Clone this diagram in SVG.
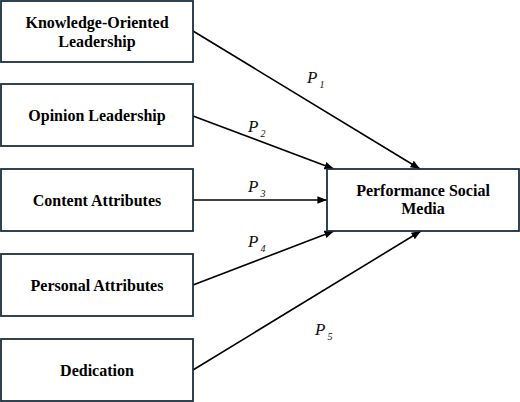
<svg xmlns="http://www.w3.org/2000/svg" width="520" height="402" viewBox="0 0 520 402">
<style>
.box{fill:#fff;stroke:#1c2f3e;stroke-width:1.8}
.t{font-weight:bold;font-size:16px;fill:#000;text-anchor:middle}
.p{font-style:italic;font-size:17px;fill:#111}
.s{font-size:10px}
.c{stroke:#000;stroke-width:1.6;fill:none;marker-end:url(#ah)}
</style>
<defs>
<marker id="ah" viewBox="0 0 10 8" refX="10" refY="4" markerWidth="6" markerHeight="5" markerUnits="strokeWidth" orient="auto">
<path d="M0,0 L10,4 L0,8 Z" fill="#000"/>
</marker>
</defs>
<rect width="520" height="402" fill="#fff"/>
<g id="connectors">
<line class="c" x1="193" y1="31" x2="420" y2="169"/>
<line class="c" x1="193" y1="116" x2="334" y2="169"/>
<line class="c" x1="193" y1="200" x2="327" y2="200"/>
<line class="c" x1="193" y1="285" x2="334" y2="231"/>
<line class="c" x1="193" y1="370" x2="421" y2="231"/>
</g>
<g id="labels" font-family="Liberation Serif, Times New Roman, serif">
<text class="p" x="307" y="83">P<tspan class="s" dx="2" dy="5">1</tspan></text>
<text class="p" x="248" y="132">P<tspan class="s" dx="2" dy="5">2</tspan></text>
<text class="p" x="248" y="192">P<tspan class="s" dx="2" dy="5">3</tspan></text>
<text class="p" x="248" y="247">P<tspan class="s" dx="2" dy="5">4</tspan></text>
<text class="p" x="315" y="335">P<tspan class="s" dx="2" dy="5">5</tspan></text>
</g>
<g font-family="Liberation Serif, Times New Roman, serif">
<g id="n1"><rect class="box" x="1" y="1" width="192" height="61"/><text class="t" x="97" y="28">Knowledge-Oriented</text><text class="t" x="97" y="47">Leadership</text></g>
<g id="n2"><rect class="box" x="1" y="84" width="192" height="62"/><text class="t" x="97" y="121">Opinion Leadership</text></g>
<g id="n3"><rect class="box" x="1" y="169" width="192" height="62"/><text class="t" x="97" y="206">Content Attributes</text></g>
<g id="n4"><rect class="box" x="1" y="254" width="192" height="62"/><text class="t" x="97" y="291">Personal Attributes</text></g>
<g id="n5"><rect class="box" x="1" y="339" width="192" height="62"/><text class="t" x="97" y="376">Dedication</text></g>
<g id="n6"><rect class="box" x="327" y="169" width="192" height="62"/><text class="t" x="423" y="196">Performance Social</text><text class="t" x="423" y="214">Media</text></g>
</g>
</svg>
